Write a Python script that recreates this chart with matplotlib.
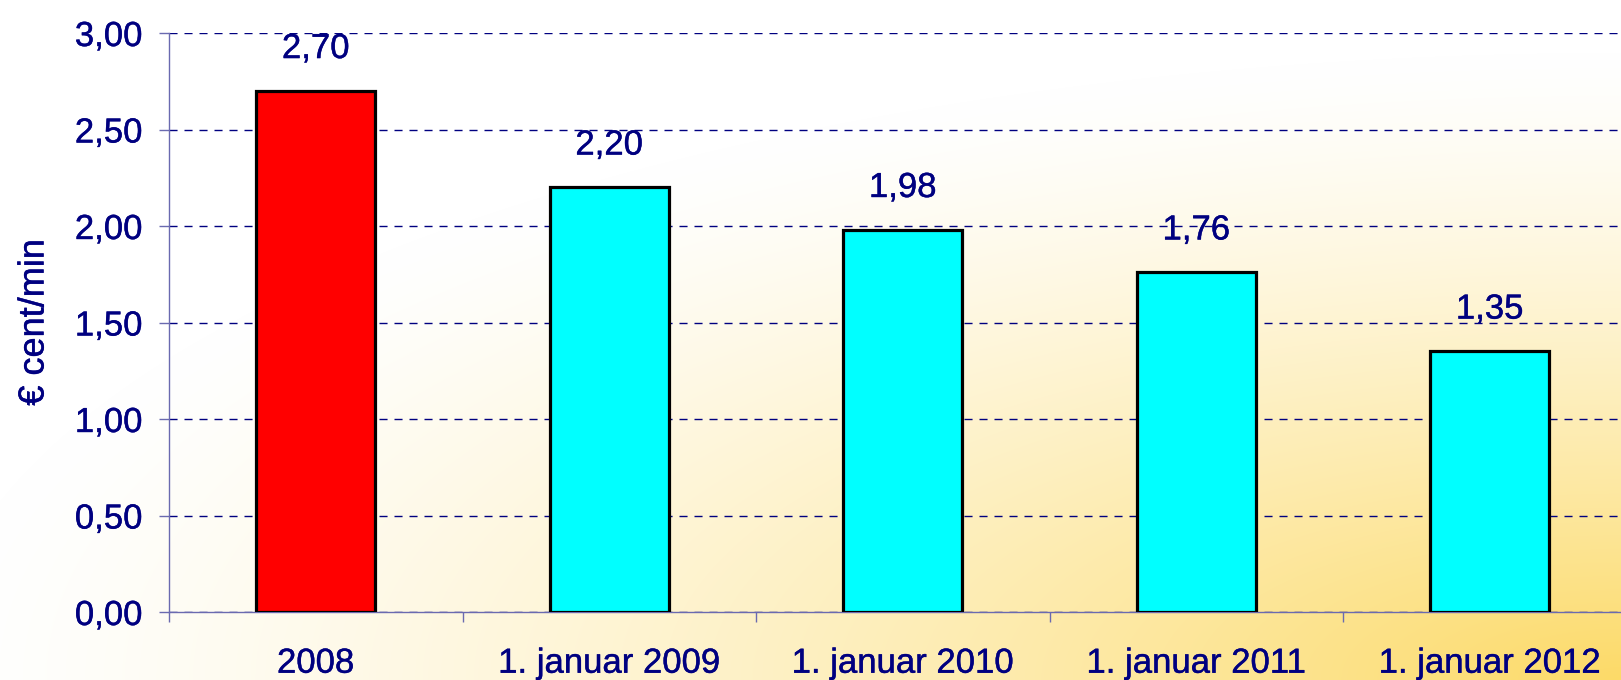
import matplotlib
matplotlib.use('Agg')
import matplotlib.pyplot as plt
import matplotlib.patheffects as pe
import numpy as np
from matplotlib.colors import to_rgb

categories = ['2008', '1. januar 2009', '1. januar 2010', '1. januar 2011', '1. januar 2012']
values = [2.70, 2.20, 1.98, 1.76, 1.35]
bar_colors = ['#FF0000', '#00FFFF', '#00FFFF', '#00FFFF', '#00FFFF']
yticks = [0.0, 0.5, 1.0, 1.5, 2.0, 2.5, 3.0]
ylabel = '€ cent/min'

plt.rcParams['font.family'] = ['Liberation Sans', 'DejaVu Sans']
navy = '#000080'
axis_col = '#6a6ab0'
thick = [pe.withStroke(linewidth=0.3, foreground=navy)]

W, H = 1621, 680
fig = plt.figure(figsize=(W / 100, H / 100), dpi=100)

# background gradient (white -> yellow towards bottom-right)
bg = fig.add_axes([0, 0, 1, 1], zorder=0)
yy, xx = np.mgrid[0:1:H * 1j, 0:1:W * 1j]
d = np.sqrt(((1 - xx) * 1.15) ** 2 + ((1 - yy) * 1.3) ** 2)
t = np.clip(1 - d / 1.2, 0, 1) ** 1.35
white = np.array([1.0, 1.0, 1.0])
yellow = np.array(to_rgb('#FCDA68'))
img = white[None, None, :] * (1 - t[..., None]) + yellow[None, None, :] * t[..., None]
bg.imshow(img, aspect='auto', extent=[0, 1, 0, 1], origin='upper')
bg.set_axis_off()

n = len(categories)
ax = fig.add_axes([169 / W, 68 / H, n * 293.5 / W, 579 / H], zorder=1)
ax.patch.set_alpha(0)

x = np.arange(n) + 0.5
ax.bar(x, values, width=0.406, color=bar_colors, edgecolor='black', linewidth=2.3, zorder=3)

ax.set_xlim(0, n)
ax.set_ylim(0, 3.0)
ax.set_yticks(yticks)
ax.set_yticklabels([f'{v:.2f}'.replace('.', ',') for v in yticks])
ax.set_axisbelow(True)
ax.yaxis.grid(True, color=navy, linestyle=(0, (5.8, 5)), linewidth=1.0, zorder=0)

ax.set_xticks(np.arange(n + 1))
ax.set_xticklabels([])
ax.set_xticks(x, minor=True)
ax.set_xticklabels(categories, minor=True)
ax.tick_params(axis='x', which='major', length=7, width=1, color=axis_col, direction='out')
ax.tick_params(axis='x', which='minor', length=0, pad=25, labelsize=25, labelcolor=navy)
ax.tick_params(axis='y', length=7, width=1, color=axis_col, direction='out', pad=12,
               labelsize=25, labelcolor=navy)
for lab in ax.get_xticklabels(minor=True) + ax.get_yticklabels():
    lab.set_path_effects(thick)

for s in ['top', 'right']:
    ax.spines[s].set_visible(False)
for s in ['left', 'bottom']:
    ax.spines[s].set_color(axis_col)
    ax.spines[s].set_linewidth(1.0)

yl = ax.set_ylabel(ylabel, fontsize=26, color=navy, ha='center', va='center')
yl.set_path_effects(thick)
ax.yaxis.set_label_coords(-135 / (n * 293.5), 0.5)

for xi, v in zip(x, values):
    a = ax.annotate(f'{v:.2f}'.replace('.', ','), (xi, v), xytext=(0, 30.5),
                    textcoords='offset points', ha='center', va='center',
                    fontsize=25, color=navy)
    a.set_path_effects(thick)

fig.savefig('out.png', dpi=100)
